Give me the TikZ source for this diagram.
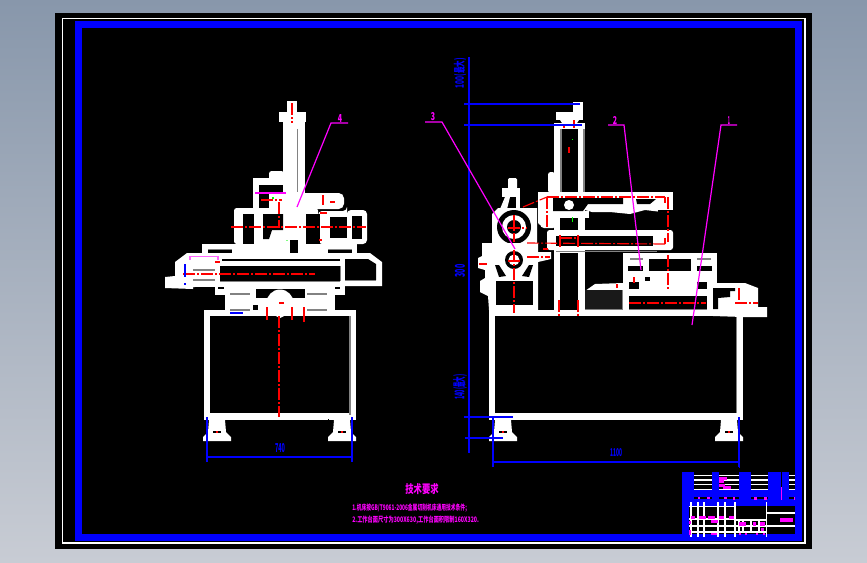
\documentclass[tikz,border=0pt]{standalone}
\usepackage{fontspec}
\setmainfont{Noto Sans CJK SC}
\usepackage{tikz}
\usetikzlibrary{positioning}

\definecolor{cadblue}{RGB}{0,0,255}
\definecolor{cadmag}{RGB}{255,0,255}
\definecolor{cadred}{RGB}{255,0,0}
\definecolor{cadgrey}{RGB}{130,130,130}

% text squeezed to a given box, as the CAD export draws it
\newcommand{\cadtxt}[3]{\resizebox{#1pt}{#2pt}{\bfseries #3}}

\tikzset{
  partfill/.style={fill=white,draw=none},
  holefill/.style={fill=black,draw=none},
  axisline/.style={draw=cadred,line width=0.85pt,dash pattern=on 9pt off 1.5pt on 1.5pt off 1.5pt},
  redtick/.style={draw=cadred,line width=0.85pt},
  leaderline/.style={draw=cadmag,line width=0.9pt},
  dimline/.style={draw=cadblue,line width=0.9pt},
  edgeline/.style={draw=cadgrey,line width=0.8pt},
  blockline/.style={draw=white,line width=0.8pt},
  speck/.style={fill=cadmag,draw=none},
  leadertext/.style={text=cadmag,inner sep=0pt},
  dimtext/.style={text=cadblue,inner sep=0pt},
  notetext/.style={text=cadmag,inner sep=0pt,anchor=west}
}

\begin{document}
\begin{tikzpicture}[x=0.75pt,y=-0.75pt]
  \useasboundingbox (0,0) rectangle (867,562);
  \shade[top color={rgb,255:red,136;green,151;blue,171},bottom color={rgb,255:red,200;green,204;blue,212}]
    (0,0) rectangle (867,562);

  % sheet
  \fill[black] (55,13) rectangle (812,549);
  \draw[white,line width=1pt] (62.5,18.5) rectangle (805,543);
  \draw[cadblue,line width=5.2pt] (78.5,24.5) rectangle (798.5,537.5);
  \draw[cadblue,line width=0.7pt] (739,465) -- (739,468);

  % left view: table and feet
  \fill[partfill] (204,310) rectangle (356,420);
  \fill[holefill] (210,316) rectangle (349,413);
  \fill[holefill] (210,419) rectangle (225,421);
  \fill[holefill] (328,419) rectangle (349,421);
  \draw[edgeline] (350,316) -- (350,420);

  % right view: table
  \fill[partfill] (489,310) rectangle (743,420);
  \fill[holefill] (495,316) rectangle (737,413);
  \fill[holefill] (495,419) rectangle (510,421);
  \fill[holefill] (722,419) rectangle (737,421);
  \draw[edgeline] (736.5,316) -- (736.5,413);

  \foreach \fx in {217,342,503,729}
    {
      \fill[partfill] (\fx-13,415) rectangle (\fx+13,420);
      \fill[partfill] (\fx-8,420) -- (\fx+8,420) -- (\fx+9,432) -- (\fx+14,437)
        -- (\fx+14,441) -- (\fx-14,441) -- (\fx-14,437) -- (\fx-9,432) -- cycle;
      \fill[holefill] (\fx-4,431) rectangle (\fx+4,433);
      \draw[redtick] (\fx,431) -- (\fx,433);
    }

  % left view: column and head
  \fill[partfill] (287,101) rectangle (297,112);
  \fill[partfill] (279,112) rectangle (306,122);
  \fill[partfill] (283,122) rectangle (305,210);
  \draw[edgeline] (297.5,129) -- (297.5,192);
  \fill[partfill,rounded corners=2pt] (269,171) rectangle (284,180);
  \fill[partfill] (253,178) rectangle (285,210);
  \fill[holefill] (259,185) rectangle (269,208);
  \fill[holefill] (269,185) rectangle (283,193);
  \fill[partfill,rounded corners=4pt] (269,193) rectangle (344,209);

  % left view: saddle
  \fill[partfill,rounded corners=2pt] (234,208) rectangle (318,244);
  \fill[partfill,rounded corners=3pt] (318,211) -- (347,211) -- (347,210) -- (367,210)
    -- (367,244) -- (318,244) -- cycle;
  \fill[holefill] (243,214) rectangle (254,244);
  \fill[holefill] (263,214) -- (283,214) -- (283,230) -- (272,230) -- (269,239) -- (263,239) -- cycle;
  \fill[holefill] (306,214) rectangle (320,244);
  \fill[holefill] (330,217) rectangle (347,238);
  \fill[holefill] (352,216) rectangle (362,239);
  \fill[partfill] (202,244) rectangle (357,253);
  \fill[holefill] (290,240) rectangle (298,253);
  \fill[holefill] (208,250) rectangle (232,253);
  \fill[holefill] (328,250) rectangle (352,253);
  \draw[edgeline] (208,249.5) -- (232,249.5);
  \draw[edgeline] (328,249.5) -- (352,249.5);

  % left view: slide
  \fill[partfill] (187,253) -- (370,253) -- (382,262) -- (382,286) -- (193,287) -- (193,289)
    -- (165,288) -- (165,277) -- (175,276) -- (175,262) -- cycle;
  \fill[holefill] (222,259) rectangle (340,261);
  \fill[holefill] (220,266) rectangle (340,281);
  \fill[holefill] (345,259) -- (368,259) -- (376,264) -- (376,280) -- (345,280) -- cycle;
  \draw[edgeline] (220,281.5) -- (340,281.5);
  \draw[edgeline] (345,280.5) -- (376,280.5);
  \draw[edgeline] (340.5,266) -- (340.5,281);
  \foreach \gy in {270,280}
    \draw[edgeline] (193,\gy) -- (215,\gy);

  % left view: under slide
  \fill[partfill] (215,286) rectangle (345,295);
  \fill[partfill] (225,295) rectangle (335,310);
  \fill[holefill] (218,287) rectangle (224,289);
  \fill[holefill] (335,287) rectangle (340,289);
  \fill[holefill] (256,289) rectangle (305,298);
  \fill[holefill] (253,305) rectangle (258,310);
  \fill[partfill] (280,303) circle (13.5);
  \fill[partfill] (266,305) rectangle (295,312);
  \fill[partfill] (280,318) -- (270,313) -- (290,313) -- cycle;
  \foreach \gx in {230,307}
    {
      \draw[edgeline] (\gx,294) -- (\gx+20,294);
      \draw[edgeline] (\gx,310) -- (\gx+20,310);
    }

  % right view: column
  \fill[partfill] (573,102) rectangle (583,120);
  \fill[partfill] (556,112) rectangle (583,120);
  \fill[partfill] (560,120) -- (579,120) -- (577,123) -- (562,123) -- cycle;
  \fill[partfill] (554,123) rectangle (585,312);
  \fill[holefill] (560,129) rectangle (578,310);
  \draw[edgeline] (561,129) -- (561,192);
  \draw[edgeline] (584,129) -- (584,192);
  \fill[partfill,rounded corners=2pt] (548,172) rectangle (555,193);

  % right view: head
  \fill[partfill] (538,192) rectangle (673,210);
  \fill[partfill,rounded corners=2pt] (538,192) rectangle (553,225);
  \fill[partfill,rounded corners=3pt] (540,210) rectangle (557,228);
  \fill[partfill] (553,211) rectangle (589,218);
  \fill[partfill] (585,204) -- (623,204) -- (673,204) -- (662,212) -- (645,210) -- (630,214)
    -- (610,212) -- (592,212) -- (585,210) -- cycle;
  \fill[holefill] (553,198) -- (623,198) -- (623,204) -- (588,204) -- (583,211) -- (553,211) -- cycle;
  \fill[holefill] (636,199) -- (656,199) -- (650,204) -- (637,204) -- cycle;
  \fill[partfill] (569,205) circle (5);
  \fill[holefill] (658,210) rectangle (673,212);

  % right view: arm
  \fill[partfill,rounded corners=2pt] (547,230) rectangle (673,250);
  \fill[holefill] (556,236) rectangle (653,246);
  \fill[partfill] (554,250) rectangle (585,253);
  \draw[edgeline] (556,251.5) -- (657,251.5);

  % right view: housings
  \fill[partfill,rounded corners=1pt] (508,178) rectangle (517,189);
  \fill[partfill] (502,188) rectangle (520,197);
  \fill[partfill] (505,197) -- (510,197) -- (507,209) -- (500,209) -- cycle;
  \fill[partfill] (516,197) rectangle (520,209);
  \fill[partfill] (498,208) -- (537,208) -- (537,243) -- (492,243) -- (492,214) -- cycle;
  \fill[holefill] (514,227) circle (17);
  \fill[partfill] (514,227) circle (12);
  \fill[holefill] (514,227) circle (7);
  \fill[partfill] (482,243) -- (538,243) -- (538,252) -- (551,252) -- (551,259) -- (538,262)
    -- (538,310) -- (489,310) -- (488,296) -- (480,292) -- (480,281) -- (485,278) -- (485,270)
    -- (478,268) -- (478,258) -- (482,256) -- cycle;
  \fill[holefill] (495,265) -- (499,265) -- (506,276) -- (499,277) -- cycle;
  \fill[holefill] (533,265) -- (529,265) -- (522,276) -- (529,277) -- cycle;
  \fill[holefill] (514,260) circle (9);
  \fill[partfill] (514,260) circle (5.5);
  \fill[holefill] (496,281) rectangle (533,305);
  \fill[holefill] (539,263) rectangle (553,310);

  % right view: saddle
  \fill[holefill] (586,253) rectangle (623,284);
  \fill[partfill] (585,291) -- (595,284) -- (623,283) -- (623,292) -- (585,292) -- cycle;
  \fill[black!90!white] (585,290) -- (596,290) -- (623,290) -- (623,309) -- (585,309) -- cycle;
  \draw[edgeline] (585,309.5) -- (623,309.5) -- (623,290);
  \fill[partfill] (623,253) rectangle (717,310);
  \fill[holefill] (649,259) rectangle (691,271);
  \fill[partfill] (655,271) arc (180:0:13) -- cycle;
  \fill[holefill] (628,266) rectangle (643,271);
  \fill[holefill] (697,266) rectangle (712,271);
  \fill[holefill] (629,282) rectangle (639,289);
  \fill[holefill] (697,282) rectangle (707,289);
  \fill[holefill] (645,277) rectangle (650,281);
  \fill[holefill] (629,296) rectangle (707,309);
  \draw[edgeline] (629,309.5) -- (707,309.5);
  \draw[edgeline] (630,259) -- (643,259);
  \draw[edgeline] (697,259) -- (711,259);

  % right view: right end
  \fill[partfill] (713,283) -- (745,283) -- (758,288) -- (758,307) -- (767,307) -- (767,317)
    -- (743,317) -- (713,316) -- cycle;
  \fill[holefill] (713,288) -- (735,288) -- (735,291) -- (730,291) -- (730,297) -- (718,298)
    -- (718,309) -- (713,309) -- cycle;

  % centre lines, left view
  \draw[axisline] (292,103) -- (292,123);
  \draw[axisline] (231,227) -- (366,227);
  \draw[axisline] (183,274) -- (315,274);
  \draw[axisline] (279,202) -- (279,228);
  \draw[axisline] (261,200) -- (282,200);
  \draw[axisline] (279,316) -- (279,417);
  \draw[redtick] (320,213) -- (327,213);
  \draw[redtick] (319,240) -- (322,240);
  \draw[redtick] (323,195) -- (323,205);
  \draw[redtick] (330,202) -- (335,202);
  \draw[redtick] (215,262) -- (220,262);
  \draw[redtick] (279,303) -- (284,303);
  \foreach \rx/\ry in {267/320,292/320,304/322}
    \draw[redtick] (\rx,307) -- (\rx,\ry);

  % centre lines, right view
  \draw[axisline] (574,120) -- (574,128);
  \draw[redtick] (564,124) -- (564,128);
  \draw[redtick] (569,147) -- (569,153);
  \draw[axisline] (547,197) -- (665,197);
  \draw[axisline] (523,207) -- (547,197);
  \draw[axisline] (547,197) -- (547,228);
  \draw[axisline] (668,197) -- (668,242);
  \draw[redtick] (665,197) -- (665,203);
  \draw[axisline] (527,243) -- (665,244);
  \draw[redtick] (665,238) -- (665,244);
  \draw[axisline] (560,235) -- (560,247);
  \draw[axisline] (578,235) -- (578,247);
  \draw[axisline] (560,238) -- (578,238);
  \draw[axisline] (559,300) -- (559,318);
  \draw[axisline] (578,300) -- (578,318);
  \draw[axisline] (514,215) -- (514,242);
  \draw[axisline] (508,228) -- (527,228);
  \draw[axisline] (514,250) -- (514,313);
  \draw[axisline] (508,261) -- (520,261);
  \draw[axisline] (527,257) -- (550,257);
  \draw[redtick] (543,249) -- (548,249);
  \draw[redtick] (479,264) -- (487,264);
  \draw[axisline] (668,255) -- (668,290);
  \draw[axisline] (629,303) -- (706,303);
  \draw[axisline] (735,303) -- (758,303);
  \draw[axisline] (739,288) -- (739,303);
  \draw[redtick] (634,277) -- (634,283);
  \draw[redtick] (617,284) -- (617,288);

  % green marks
  \fill[green] (272,197) rectangle (274,199);
  \fill[green!50] (286,240) rectangle (288,241);
  \fill[green] (571.5,217) rectangle (572.5,222);
  \fill[green] (572,139) rectangle (573,140);

  % dimensions
  \draw[dimline] (207,417) -- (207,462);
  \draw[dimline] (352,417) -- (352,462);
  \draw[dimline] (207,457) -- (352,457);
  \draw[dimline] (469,57) -- (469,453);
  \foreach \dy/\dx in {104/580,125/582}
    \draw[dimline] (464,\dy) -- (\dx,\dy);
  \draw[dimline] (464,417) -- (513,417);
  \draw[dimline] (465,438) -- (503,438);
  \draw[dimline] (493,417) -- (493,467);
  \draw[dimline] (739,417) -- (739,467);
  \draw[dimline] (493,462) -- (739,462);
  \draw[cadblue,line width=2pt] (185,264) -- (185,277);
  \draw[cadblue,line width=2pt] (185,283) -- (185,285);
  \draw[dimline] (230,313) -- (243,313);

  \node[dimtext] (width740) at (280,448) {\cadtxt{7.5}{6.8}{740}};
  \node[dimtext] (width1100) at (616,453) {\cadtxt{9}{6}{1100}};
  \node[dimtext,rotate=90] (stroke100) at (460,73) {\cadtxt{22.5}{7.5}{100(最大)}};
  \node[dimtext,rotate=90] (height300) at (460,271) {\cadtxt{9.8}{7.5}{300}};
  \node[dimtext,rotate=90] (stroke140) at (460,387) {\cadtxt{19}{8.5}{140(最大)}};

  % part labels and leaders
  \draw[cadmag,line width=0.7pt] (255,192) -- (286,192);
  \draw[cadmag,line width=0.7pt] (255,193.7) -- (286,193.7);
  \draw[cadmag!60!white,line width=0.8pt] (190,260) -- (190,256.5) -- (218,256.5) -- (218,260);

  \node[leadertext] (lab4) at (340,118) {\cadtxt{3.2}{6}{4}};
  \node[leadertext] (lab3) at (433,117) {\cadtxt{3.2}{6}{3}};
  \node[leadertext] (lab2) at (615,120) {\cadtxt{3.2}{6}{2}};
  \node[leadertext] (lab1) at (729,120) {\cadtxt{1.6}{6}{1}};
  \coordinate (end4) at (297,207);
  \coordinate (end3) at (515,249);
  \coordinate (end2) at (641,270);
  \coordinate (end1) at (692,325);
  \draw[leaderline] (end4) -- (331,123) -- (348,123);
  \draw[leaderline] (end3) -- (442,122) -- (425,122);
  \draw[leaderline] (end2) -- (624,125) -- (608,125);
  \draw[leaderline] (end1) -- (721,125) -- (737,125);

  % title block
  \fill[cadblue] (682,472) rectangle (795,534);
  \foreach \xa/\xb in {694/712,719/739,751/768,789/795}
    {
      \fill[black] (\xa,472) rectangle (\xb,490);
      \foreach \ly in {475.3,480,484.3,489.3}
        \draw[blockline] (\xa,\ly) -- (\xb,\ly);
      \fill[black] (\xa,497) rectangle (\xb,499);
    }
  \fill[black] (781,472) rectangle (782,490);
  \fill[black] (689,506) rectangle (795,534);
  \foreach \ly in {506.5,519,526,532}
    \draw[blockline] (689,\ly) -- (735,\ly);
  \foreach \lx in {691,698,704,718,725,735}
    \draw[blockline] (\lx,502) -- (\lx,537);
  \foreach \ly in {520,526,532}
    \draw[blockline] (735,\ly) -- (766,\ly);
  \foreach \lx in {739,743,751,759}
    \draw[blockline] (\lx,520) -- (\lx,532);
  \draw[blockline] (766.5,502) -- (766.5,537);
  \foreach \ly in {513,526}
    \draw[blockline] (766,\ly) -- (795,\ly);
  \foreach \sx/\sy/\sw/\sh in {
      719/477/8/3, 719/480/5/3, 719/484/6/3, 723/486/8/3,
      698/497/2/2, 707/497/3/2, 724/497/3/2, 733/497/2/3,
      754/497/3/3, 764/497/3/3, 794/497/1/3,
      691/516/4/3, 699/516/7/3, 708/516/7/3, 719/516/5/3, 729/516/5/3,
      711/520/7/3, 689/521/2/3, 689/530/2/5, 711/533/6/2,
      739/522/7/4, 753/522/3/4, 760/522/5/4, 761/528/3/3,
      739/533/2/2, 745/533/2/2, 756/533/2/2, 763/533/2/2,
      780/518/13/4}
    \fill[speck] (\sx,\sy) rectangle ++(\sw,\sh);
  \draw[cadmag,line width=0.7pt] (781,487) -- (781,500);

  % technical notes
  \node[text=cadmag,inner sep=0pt] (techtitle) at (422,489) {\cadtxt{25}{7.5}{技术要求}};
  \node[notetext] (techone) at (352,508) {\cadtxt{86}{5}{1.机床按GB/T9061-2006金属切削机床通用技术条件;}};
  \node[notetext] (techtwo) at (352,520) {\cadtxt{95}{5}{2.工作台面尺寸为300X630,工作台面积限制160X320.}};
\end{tikzpicture}
\end{document}
